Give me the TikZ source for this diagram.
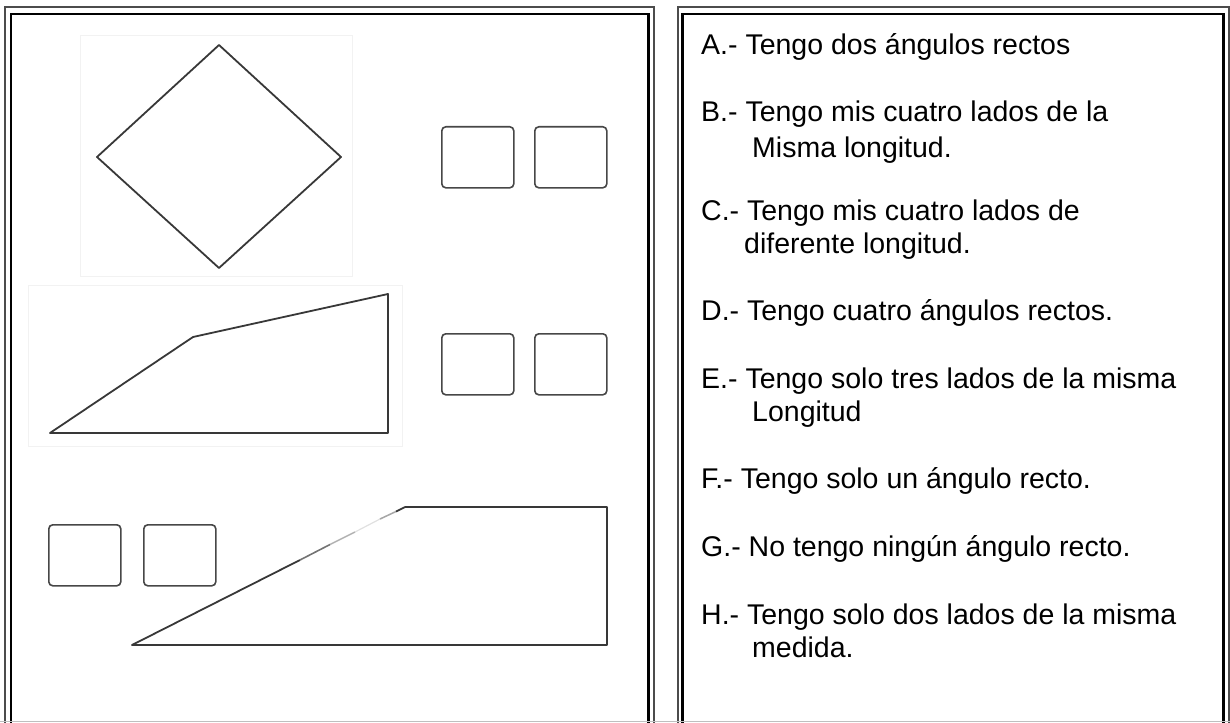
\documentclass[tikz,border=0pt]{standalone}
\usepackage{fontspec}
\setmainfont{Liberation Sans}
\begin{document}
\begin{tikzpicture}[x=1pt,y=-1pt,
  outerline/.style={draw=black!70, line width=2pt},
  innerline/.style={draw=black, line width=2.4pt},
  shapeline/.style={draw=black!78, line width=1.8pt, line join=round},
  faintline/.style={draw=black!5, line width=1pt},
  answerbox/.style={draw=black!72, line width=1.6pt, rounded corners=4pt, minimum width=72pt, minimum height=61pt, inner sep=0pt, anchor=north west},
  item/.style={anchor=base west, inner sep=0pt, font=\fontsize{28.5}{34}\selectfont}]
\useasboundingbox (0,0) rectangle (1230,722);
\clip (0,0) rectangle (1230,722);
% panel borders
\draw[outerline] (5,7) rectangle (654,740);
\draw[innerline] (11,14) rectangle (648.5,740);
\draw[outerline] (677.5,7) rectangle (1228.5,740);
\draw[innerline] (682.5,14) rectangle (1223.5,740);
\draw[black!25, line width=1.5pt] (0,721.5) -- (1230,721.5);
% faint picture frames
\draw[faintline] (80,36) rectangle (352,276);
\draw[faintline] (28,285) rectangle (402,446);
% rhombus
\draw[shapeline] (219,45) -- (341,157) -- (219,268) -- (97,157) -- cycle;
% trapezoid 1
\draw[shapeline] (50,433) -- (193,337) -- (388,294) -- (388,433) -- cycle;
% trapezoid 2
\draw[shapeline] (300,560) -- (132,645) -- (607,645) -- (607,507) -- (405,507);
\draw[draw=black!55, line width=1.6pt] (300,560) -- (330,544.5);
\draw[draw=black!30, line width=1.4pt] (330,544.5) -- (355,532);
\draw[draw=black!12, line width=1.2pt] (355,532) -- (380,519);
\draw[draw=black!35, line width=1.5pt] (380,519) -- (396,511.5);
\draw[shapeline] (396,511.5) -- (405,507);
% answer boxes
\node[answerbox] (b1) at (441,126) {};
\node[answerbox] (b2) at (534,126) {};
\node[answerbox] (b3) at (441,333) {};
\node[answerbox] (b4) at (534,333) {};
\node[answerbox] (b5) at (48,524) {};
\node[answerbox] (b6) at (143,524) {};
% statements
\node[item] (tA) at (701,55) {A.- Tengo dos ángulos rectos};
\node[item] (tB) at (701,122) {B.- Tengo mis cuatro lados de la};
\node[item] (tB2) at (752,158) {Misma longitud.};
\node[item] (tC) at (701,220) {C.- Tengo mis cuatro lados de};
\node[item] (tC2) at (744,253) {diferente longitud.};
\node[item] (tD) at (701,320) {D.- Tengo cuatro ángulos rectos.};
\node[item] (tE) at (701,388) {E.- Tengo solo tres lados de la misma};
\node[item] (tE2) at (752,421) {Longitud};
\node[item] (tF) at (701,488) {F.- Tengo solo un ángulo recto.};
\node[item] (tG) at (701,556) {G.- No tengo ningún ángulo recto.};
\node[item] (tH) at (701,624) {H.- Tengo solo dos lados de la misma};
\node[item] (tH2) at (752,657) {medida.};
\end{tikzpicture}
\end{document}
